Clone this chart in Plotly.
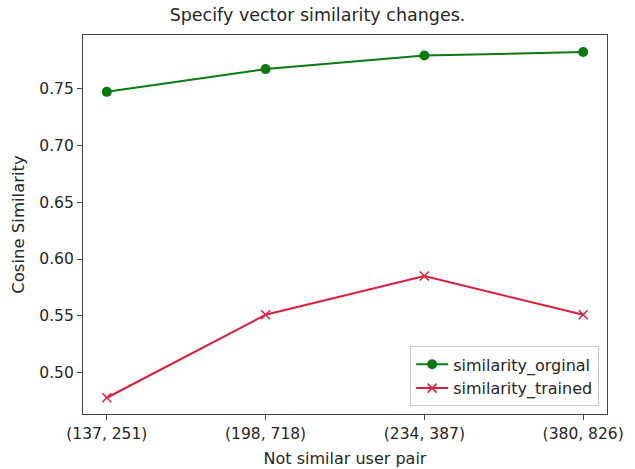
import plotly.graph_objects as go

pairs = ["(137, 251)", "(198, 718)", "(234, 387)", "(380, 826)"]
similarity_orginal = [0.747, 0.767, 0.779, 0.782]
similarity_trained = [0.478, 0.551, 0.585, 0.551]
yticks = [0.50, 0.55, 0.60, 0.65, 0.70, 0.75]

xs = list(range(len(pairs)))
font = "DejaVu Sans"

fig = go.Figure()
fig.add_trace(go.Scatter(
    x=xs, y=similarity_orginal, mode="lines+markers", name="similarity_orginal",
    line=dict(color="#0c7a12", width=2),
    marker=dict(symbol="circle", size=10, color="#0a7a10"),
))
fig.add_trace(go.Scatter(
    x=xs, y=similarity_trained, mode="lines+markers", name="similarity_trained",
    line=dict(color="#dc1e3c", width=2),
    marker=dict(symbol="x-thin", size=9, color="#e0203c", line=dict(color="#e0203c", width=1.5)),
))

fig.update_layout(
    width=635, height=469,
    margin=dict(l=83, r=28, t=35, b=55),
    paper_bgcolor="white", plot_bgcolor="white",
    font=dict(family=font, size=15, color="#262626"),
    title=dict(text="Specify vector similarity changes.", x=0.5, xanchor="center",
               y=1 - 15 / 469, yanchor="middle", font=dict(size=17.5, color="#262626")),
    showlegend=True,
    legend=dict(x=0.985, y=0.02, xanchor="right", yanchor="bottom",
                bgcolor="rgba(255,255,255,0.8)", bordercolor="#cccccc", borderwidth=1,
                font=dict(size=16), tracegroupgap=0, itemwidth=32),
)
fig.update_xaxes(
    range=[-0.15, 3.15], tickmode="array", tickvals=xs, ticktext=pairs,
    showgrid=False, zeroline=False, showline=True, linecolor="#444444", linewidth=1.2,
    mirror=True, ticks="outside", ticklen=5, tickcolor="#444444", tickfont=dict(size=15.5),
    automargin=False,
    title=dict(text="Not similar user pair", font=dict(size=16), standoff=11),
)
fig.update_yaxes(
    range=[0.4637, 0.797], tickmode="array", tickvals=yticks,
    ticktext=[f"{v:.2f}" for v in yticks],
    showgrid=False, zeroline=False, showline=True, linecolor="#444444", linewidth=1.2,
    mirror=True, ticks="outside", ticklen=5, tickcolor="#444444", tickfont=dict(size=15.5),
    automargin=False,
    title=dict(text="Cosine Similarity", font=dict(size=16.5), standoff=10),
)

fig.write_html("out.html")
